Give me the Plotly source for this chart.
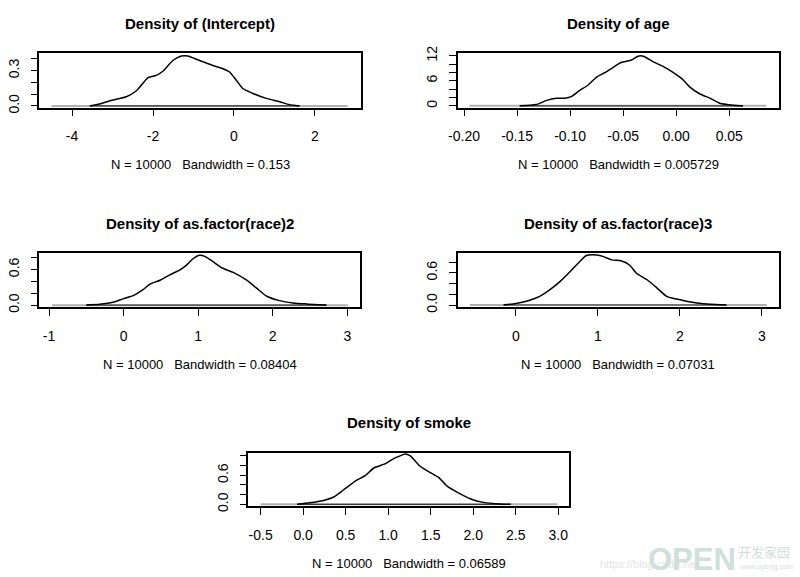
import plotly.graph_objects as go

W, H = 800, 577

# ---------------- data ----------------
titles = ["Density of (Intercept)", "Density of age", "Density of as.factor(race)2",
          "Density of as.factor(race)3", "Density of smoke"]
n_draws = [10000, 10000, 10000, 10000, 10000]
bandwidths = ["0.153", "0.005729", "0.08404", "0.07031", "0.06589"]

int_x = [-3.56, -3.32, -2.99, -2.66, -2.41, -2.12, -1.92, -1.75, -1.51, -1.30, -1.14, -0.85,
         -0.52, -0.27, -0.107, 0.058, 0.22, 0.47, 0.80, 1.13, 1.37, 1.62]
int_y = [0.0, 0.017, 0.05, 0.078, 0.129, 0.24, 0.26, 0.297, 0.386, 0.424, 0.424, 0.386,
         0.344, 0.316, 0.288, 0.218, 0.148, 0.106, 0.064, 0.036, 0.011, 0.0]

age_x = [-0.1475, -0.132, -0.122, -0.113, -0.105, -0.099, -0.091, -0.083, -0.075, -0.067,
         -0.059, -0.052, -0.042, -0.036, -0.031, -0.022, -0.012, -0.003, 0.0066, 0.0129,
         0.022, 0.032, 0.041, 0.054, 0.063]
age_y = [0.0, 0.3, 1.3, 1.8, 1.84, 2.2, 3.7, 5.0, 6.9, 8.0, 9.3, 10.4, 11.0, 11.9, 11.9,
         10.6, 9.4, 8.0, 6.2, 4.5, 2.9, 1.8, 0.64, 0.16, 0.0]

r2_x = [-0.50, -0.32, -0.14, 0.0, 0.13, 0.26, 0.35, 0.49, 0.62, 0.75, 0.84, 0.93, 1.02,
        1.09, 1.20, 1.33, 1.47, 1.65, 1.78, 1.92, 2.09, 2.27, 2.45, 2.72]
r2_y = [0.005, 0.017, 0.05, 0.11, 0.16, 0.26, 0.35, 0.42, 0.51, 0.59, 0.67, 0.78, 0.84,
        0.82, 0.73, 0.62, 0.55, 0.42, 0.29, 0.15, 0.077, 0.039, 0.022, 0.005]

r3_x = [-0.15, 0.0, 0.17, 0.29, 0.42, 0.54, 0.66, 0.78, 0.86, 0.99, 1.07, 1.17, 1.29,
        1.39, 1.47, 1.60, 1.72, 1.84, 1.96, 2.08, 2.21, 2.37, 2.57]
r3_y = [0.0, 0.03, 0.09, 0.16, 0.29, 0.44, 0.62, 0.81, 0.92, 0.93, 0.90, 0.84, 0.82,
        0.74, 0.59, 0.47, 0.32, 0.16, 0.11, 0.07, 0.036, 0.012, 0.0]

smk_x = [-0.07, 0.08, 0.24, 0.36, 0.47, 0.63, 0.73, 0.83, 0.91, 0.98, 1.06, 1.14, 1.20,
         1.26, 1.38, 1.49, 1.59, 1.69, 1.81, 1.97, 2.12, 2.32, 2.44]
smk_y = [0.0, 0.03, 0.08, 0.15, 0.29, 0.50, 0.59, 0.75, 0.80, 0.85, 0.94, 1.00, 1.04,
         1.00, 0.78, 0.66, 0.56, 0.38, 0.25, 0.11, 0.04, 0.007, 0.0]

curves_x = [int_x, age_x, r2_x, r3_x, smk_x]
curves_y = [int_y, age_y, r2_y, r3_y, smk_y]

# range of the density grid (zero line / observation rug)
grid_min = [-4.51, -0.195, -0.96, -0.56, -0.50]
grid_max = [2.81, 0.085, 3.01, 3.06, 2.99]

x_ticks = [[-4, -2, 0, 2],
           [-0.20, -0.15, -0.10, -0.05, 0.00, 0.05],
           [-1, 0, 1, 2, 3],
           [0, 1, 2, 3],
           [-0.5, 0.0, 0.5, 1.0, 1.5, 2.0, 2.5, 3.0]]
x_labels = [["-4", "-2", "0", "2"],
            ["-0.20", "-0.15", "-0.10", "-0.05", "0.00", "0.05"],
            ["-1", "0", "1", "2", "3"],
            ["0", "1", "2", "3"],
            ["-0.5", "0.0", "0.5", "1.0", "1.5", "2.0", "2.5", "3.0"]]
y_ticks = [[0.0, 0.1, 0.2, 0.3, 0.4],
           [0, 2, 4, 6, 8, 10, 12],
           [0.0, 0.2, 0.4, 0.6, 0.8],
           [0.0, 0.2, 0.4, 0.6, 0.8],
           [0.0, 0.2, 0.4, 0.6, 0.8, 1.0]]
y_labels = [["0.0", "", "", "0.3", ""],
            ["0", "", "", "6", "", "", "12"],
            ["0.0", "", "", "0.6", ""],
            ["0.0", "", "", "0.6", ""],
            ["0.0", "", "", "0.6", "", ""]]

# ---------------- layout geometry (pixels) ----------------
boxes = [(39.3, 361, 53.3, 107.7),
         (457.7, 779, 53.3, 107.7),
         (39.3, 360, 252.5, 307),
         (457.7, 779, 252.5, 307),
         (248.3, 569.3, 452.5, 506)]
x_ranges = [[-4.81, 3.14], [-0.206, 0.0969], [-1.13, 3.17], [-0.71, 3.21], [-0.645, 3.13]]
y_ranges = [[-0.015, 0.447], [-0.45, 12.6], [-0.03, 0.885], [-0.037, 0.977], [-0.035, 1.07]]
title_y = [23.5, 23.5, 223, 223, 422]
sub_y = [164.5, 164.5, 364, 364, 563]

FONT = "Liberation Sans, Arial, sans-serif"

fig = go.Figure()
for i in range(5):
    ax = "" if i == 0 else str(i + 1)
    # zero line / observations
    fig.add_trace(go.Scatter(x=[grid_min[i], grid_max[i]], y=[0, 0], mode="lines",
                             line=dict(color="#b0b0b0", width=2),
                             xaxis="x" + ax, yaxis="y" + ax, showlegend=False, hoverinfo="skip"))
    fig.add_trace(go.Scatter(x=[curves_x[i][0], curves_x[i][-1]], y=[0, 0], mode="lines",
                             line=dict(color="#3a3a3a", width=1.2),
                             xaxis="x" + ax, yaxis="y" + ax, showlegend=False, hoverinfo="skip"))
    fig.add_trace(go.Scatter(x=curves_x[i], y=curves_y[i], mode="lines",
                             line=dict(color="black", width=1.5, shape="spline", smoothing=0.6),
                             xaxis="x" + ax, yaxis="y" + ax, showlegend=False))
    x0, x1, y0, y1 = boxes[i]
    common = dict(showgrid=False, zeroline=False, showline=True, mirror=True,
                  linecolor="black", linewidth=1.5, ticks="outside", ticklen=7,
                  tickwidth=1.2, tickcolor="black", automargin=False,
                  tickfont=dict(family=FONT, size=14, color="black"))
    fig.layout["xaxis" + ax] = dict(domain=[x0 / W, x1 / W], range=x_ranges[i],
                                    anchor="y" + ax, tickmode="array", tickvals=x_ticks[i],
                                    ticktext=x_labels[i], ticklabelstandoff=8, **common)
    fig.layout["yaxis" + ax] = dict(domain=[1 - y1 / H, 1 - y0 / H], range=y_ranges[i],
                                    anchor="x" + ax, tickmode="array", tickvals=y_ticks[i],
                                    ticktext=y_labels[i], tickangle=-90, ticklabelstandoff=6,
                                    **common)
    cx = (x0 + x1) / 2 / W
    fig.add_annotation(text="<b>" + titles[i] + "</b>", x=cx, y=1 - title_y[i] / H,
                       xref="paper", yref="paper", showarrow=False, xanchor="center",
                       yanchor="middle", font=dict(family=FONT, size=15, color="black"))
    fig.add_annotation(text="N = %d   Bandwidth = %s" % (n_draws[i], bandwidths[i]),
                       x=cx, y=1 - sub_y[i] / H, xref="paper", yref="paper",
                       showarrow=False, xanchor="center", yanchor="middle",
                       font=dict(family=FONT, size=13, color="black"))

# watermark
fig.add_annotation(text="https://blog.csdn.net", x=598 / W, y=1 - 564 / H, xref="paper",
                   yref="paper", showarrow=False, xanchor="left", yanchor="middle",
                   font=dict(family=FONT, size=11, color="#e4e4e4"))
fig.add_annotation(text="<b>OPEN</b>", x=646 / W, y=1 - 559 / H, xref="paper", yref="paper",
                   showarrow=False, xanchor="left", yanchor="middle",
                   font=dict(family=FONT, size=31, color="#cfe0db"))
fig.add_annotation(text="开发家园", x=736 / W, y=1 - 551 / H, xref="paper", yref="paper",
                   showarrow=False, xanchor="left", yanchor="middle",
                   font=dict(family="Noto Sans CJK SC", size=13, color="#d3ddda"))
fig.add_annotation(text="www.openjg.com", x=737 / W, y=1 - 567 / H, xref="paper", yref="paper",
                   showarrow=False, xanchor="left", yanchor="middle",
                   font=dict(family=FONT, size=7, color="#d8dedc"))

fig.update_layout(width=W, height=H, margin=dict(l=0, r=0, t=0, b=0, pad=0),
                  template="none",
                  paper_bgcolor="white", plot_bgcolor="white", showlegend=False)
fig.write_html("out.html")
